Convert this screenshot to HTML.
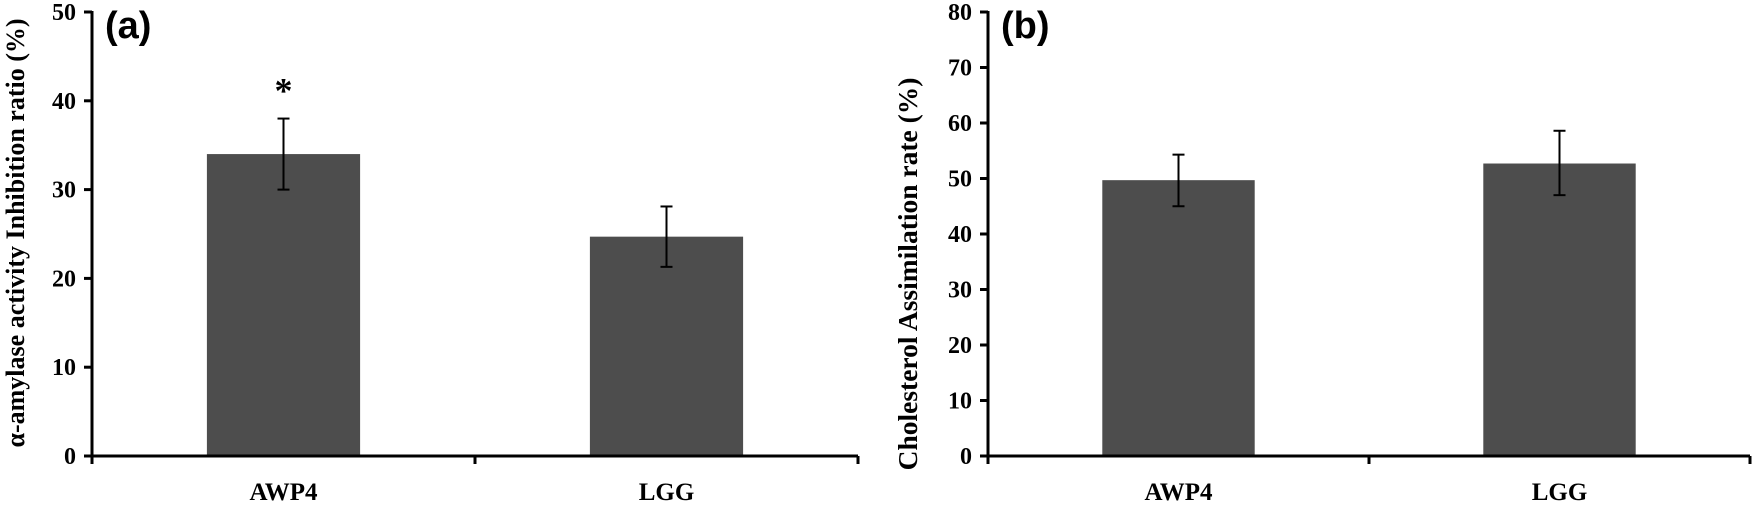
<!DOCTYPE html>
<html><head><meta charset="utf-8"><style>
html,body{margin:0;padding:0;background:#fff;}
svg{display:block;font-family:"Liberation Serif",serif;font-weight:bold;}
</style></head><body>
<svg id="chart" width="1755" height="506" viewBox="0 0 1755 506"></svg>
<script>
const categories = ["AWP4", "LGG"];
const valuesA = [34.0, 24.7];
const errLowA = [30.0, 21.3];
const errHighA = [38.0, 28.1];
const ticksA = [0, 10, 20, 30, 40, 50];
const valuesB = [49.7, 52.7];
const errLowB = [45.0, 47.0];
const errHighB = [54.3, 58.6];
const ticksB = [0, 10, 20, 30, 40, 50, 60, 70, 80];

const NS = "http://www.w3.org/2000/svg";
const svg = document.getElementById("chart");
function mk(tag, attrs, parent) {
  const e = document.createElementNS(NS, tag);
  for (const k in attrs) e.setAttribute(k, attrs[k]);
  (parent || svg).appendChild(e);
  return e;
}

function panel(opts) {
  const g = mk("g", {});
  
  
  const x0 = opts.x0, x1 = opts.x1, yTop = 12, yBot = 456;
  const ymax = opts.ticks[opts.ticks.length - 1];
  const y = v => yBot - (v / ymax) * (yBot - yTop);
  const cw = (x1 - x0) / opts.cats.length;
  const xc = i => x0 + cw * (i + 0.5);
  const bw = cw * 0.4;

  opts.vals.forEach((v, i) => {
    const r = mk("rect", {x: xc(i) - bw / 2, y: y(v), width: bw, height: yBot - y(v), fill: "#4d4d4d"}, g);
    
    
    const eg = mk("g", {stroke: "#000", "stroke-width": 2}, g);
    
    
    mk("line", {x1: xc(i), x2: xc(i), y1: y(opts.lo[i]), y2: y(opts.hi[i])}, eg);
    mk("line", {x1: xc(i) - 6, x2: xc(i) + 6, y1: y(opts.lo[i]), y2: y(opts.lo[i])}, eg);
    mk("line", {x1: xc(i) - 6, x2: xc(i) + 6, y1: y(opts.hi[i]), y2: y(opts.hi[i])}, eg);
    const t = mk("text", {x: xc(i), y: 500, "text-anchor": "middle", "font-size": 25}, g);
    t.textContent = opts.cats[i];
    
    
  });

  const ya = mk("line", {x1: x0, x2: x0, y1: yTop - 1, y2: yBot + 8, stroke: "#000", "stroke-width": 3}, g);
  
  
  const xa = mk("line", {x1: x0, x2: x1, y1: yBot, y2: yBot, stroke: "#000", "stroke-width": 3}, g);
  
  
  for (let i = 0; i <= opts.cats.length; i++) {
    mk("line", {x1: x0 + cw * i, x2: x0 + cw * i, y1: yBot, y2: yBot + 8, stroke: "#000", "stroke-width": 3}, g);
  }
  opts.ticks.forEach(v => {
    mk("line", {x1: x0 - 8, x2: x0, y1: y(v), y2: y(v), stroke: "#000", "stroke-width": 3}, g);
    const t = mk("text", {x: x0 - 16, y: y(v) + 8, "text-anchor": "end", "font-size": 24}, g);
    t.textContent = v;
    
    
  });
  const yt = mk("text", {x: 0, y: 0, "text-anchor": "middle", "font-size": opts.labelSize,
    transform: "translate(" + opts.labelX + "," + opts.labelY + ") rotate(-90)"}, g);
  yt.textContent = opts.ylabel;
  
  
  const pl = mk("text", {x: x0 + 13, y: 38, "font-family": "Liberation Sans, sans-serif", "font-size": 38}, g);
  pl.textContent = opts.panelLabel;
  
  
  return {y, xc};
}

const pa = panel({name: "panel-a", x0: 92, x1: 858, cats: categories, vals: valuesA, lo: errLowA, hi: errHighA,
  ticks: ticksA, ylabel: "α-amylase activity Inhibition ratio (%)", labelX: 24, labelY: 233, labelSize: 26, panelLabel: "(a)"});
const star = mk("text", {x: pa.xc(0), y: pa.y(errHighA[0]) - 16, "text-anchor": "middle", "font-size": 36});
star.textContent = "*";



panel({name: "panel-b", x0: 988, x1: 1750, cats: categories, vals: valuesB, lo: errLowB, hi: errHighB,
  ticks: ticksB, ylabel: "Cholesterol Assimilation rate (%)", labelX: 917, labelY: 274, labelSize: 27.5, panelLabel: "(b)"});
</script>
</body></html>
